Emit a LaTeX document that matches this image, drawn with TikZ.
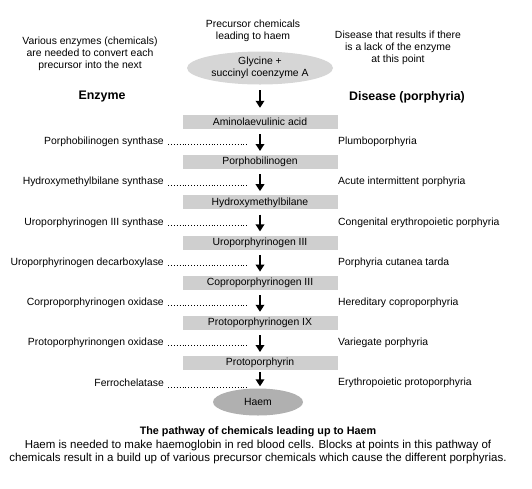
\documentclass[tikz,border=0pt]{standalone}
\usepackage{fontspec}
\setmainfont{Liberation Sans}
\usetikzlibrary{shapes.geometric, arrows.meta, positioning, calc}

\newcommand{\notefont}{\fontsize{10.4}{11.7}\selectfont}

\tikzset{
  note/.style={align=center, inner sep=0pt, font=\notefont},
  heading/.style={inner sep=0pt, font=\fontsize{12.4}{14}\selectfont\bfseries},
  chem/.style={fill=gray!38, minimum width=155pt, minimum height=14pt, inner sep=0pt, font=\notefont},
  start/.style={ellipse, fill=gray!32, align=center, inner sep=0pt, font=\notefont},
  haem/.style={ellipse, fill=gray!62, minimum width=90pt, minimum height=27pt, inner sep=0pt, font=\notefont},
  enzlabel/.style={anchor=east, inner sep=0pt, font=\notefont},
  dislabel/.style={anchor=west, inner sep=0pt, font=\notefont},
  flow/.style={line width=2.4pt, -{Triangle[width=8.5pt,length=7pt]}, shorten <=5pt, shorten >=4pt},
  leader/.style={line width=0.7pt, dash pattern=on 0.7pt off 2.2pt}
}

\begin{document}
\begin{tikzpicture}[x=1pt, y=-1pt]
\useasboundingbox (0,0) rectangle (532,488);

% Column notes
\node[note] (hchem) at (253,31) {Precursor chemicals\\leading to haem};
\node[note] (henz) at (90,54) {Various enzymes (chemicals)\\are needed to convert each\\precursor into the next};
\node[note] (hdis) at (398,48) {Disease that results if there\\is a lack of the enzyme\\at this point};
\node[heading] (enzyme) at (102,97) {Enzyme};
\node[heading] (disease) at (407,97) {Disease (porphyria)};

% Pathway
\node[start, minimum width=146pt, minimum height=33pt] (c0) at (260,68) {Glycine +\\succinyl coenzyme A};
\foreach \i/\chem in {1/Aminolaevulinic acid, 2/Porphobilinogen, 3/Hydroxymethylbilane, 4/Uroporphyrinogen III, 5/Coproporphyrinogen III, 6/Protoporphyrinogen IX, 7/Protoporphyrin} {
   \node[chem] (c\i) at (260, {122+40.2*(\i-1)}) {\chem};
}
\node[haem] (c8) at (258,402) {Haem};

\draw[flow, shorten <=5.5pt, shorten >=7pt] (c0.south -| c1) -- (c1.north);
\foreach \i [evaluate=\i as \j using int(\i+1)] in {1,...,6} {
   \draw[flow] (c\i.south) -- (c\j.north);
}
\draw[flow, shorten <=2pt, shorten >=2pt] (c7.south) -- (c8.north -| c7);

% Enzymes and diseases
\foreach \i/\enz/\dis in {1/Porphobilinogen synthase/Plumboporphyria, 2/Hydroxymethylbilane synthase/Acute intermittent porphyria, 3/Uroporphyrinogen III synthase/Congenital erythropoietic porphyria, 4/Uroporphyrinogen decarboxylase/Porphyria cutanea tarda, 5/Corproporphyrinogen oxidase/Hereditary coproporphyria, 6/Protoporphyrinongen oxidase/Variegate porphyria, 7/Ferrochelatase/Erythropoietic protoporphyria} {
   \node[enzlabel] (e\i) at (164, {142+40.2*(\i-1)}) {\enz};
   \node[dislabel] (d\i) at (338, {142+40.2*(\i-1)}) {\dis};
   \coordinate (l\i) at (248, {142+40.2*(\i-1)});
   \draw[leader] ([xshift=4pt]e\i.base east) -- (e\i.base east -| l\i);
}

% Caption
\node[heading, font=\fontsize{10.8}{13}\selectfont\bfseries] (title) at (258,432) {The pathway of chemicals leading up to Haem};
\node[note, font=\fontsize{11.5}{13}\selectfont, below=3pt of title] (caption) {Haem is needed to make haemoglobin in red blood cells. Blocks at points in this pathway of\\chemicals result in a build up of various precursor chemicals which cause the different porphyrias.};
\end{tikzpicture}
\end{document}
